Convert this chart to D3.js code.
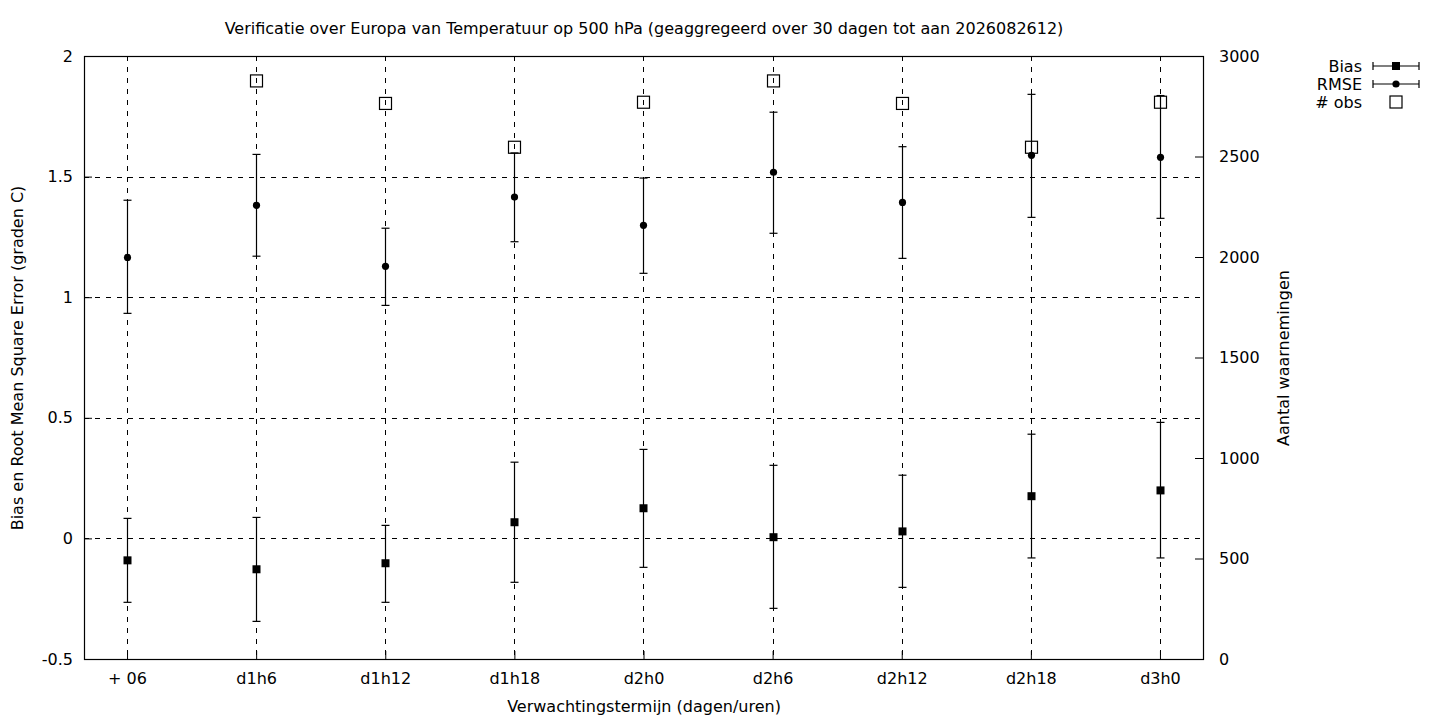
<!DOCTYPE html>
<html>
<head>
<meta charset="utf-8">
<script src="https://cdn.jsdelivr.net/npm/d3@7"></script>
<style>
  body { margin: 0; background: #fff; }
  text { font-family: "DejaVu Sans", sans-serif; font-size: 16px; fill: #000; }
</style>
</head>
<body>
<div id="chart"></div>
<script>
// afmetingen
const width = 1440;
const height = 720;
const margin = { left: 84, right: 237, top: 56, bottom: 61 };

// data
const categories = ["+ 06", "d1h6", "d1h12", "d1h18", "d2h0", "d2h6", "d2h12", "d2h18", "d3h0"];
const rmse   = [1.165, 1.381, 1.128, 1.415, 1.298, 1.518, 1.393, 1.588, 1.580];
const rmseLo = [0.933, 1.170, 0.966, 1.230, 1.099, 1.265, 1.161, 1.331, 1.327];
const rmseHi = [1.402, 1.592, 1.286, 1.598, 1.494, 1.767, 1.624, 1.841, 1.836];
const bias   = [-0.091, -0.128, -0.103, 0.067, 0.125, 0.005, 0.029, 0.175, 0.199];
const biasLo = [-0.265, -0.344, -0.265, -0.182, -0.120, -0.290, -0.203, -0.081, -0.081];
const biasHi = [0.083, 0.087, 0.054, 0.316, 0.369, 0.303, 0.262, 0.432, 0.481];
const obs    = [null, 2876, 2764, 2546, 2770, 2876, 2764, 2546, 2770];
const yTicks = [-0.5, 0, 0.5, 1, 1.5, 2];
const y2Ticks = [0, 500, 1000, 1500, 2000, 2500, 3000];

const svg = d3.select("#chart").append("svg")
    .attr("width", width)
    .attr("height", height);

const x = d3.scaleLinear()
    .domain([-1 / 3, categories.length - 1 + 1 / 3])
    .range([margin.left, width - margin.right]);
const y = d3.scaleLinear()
    .domain([-0.5, 2])
    .range([height - margin.bottom, margin.top]);
const y2 = d3.scaleLinear()
    .domain([0, 3000])
    .range([height - margin.bottom, margin.top]);

const x0 = margin.left, x1 = width - margin.right;
const yTop = margin.top, yBot = height - margin.bottom;
const px = i => Math.round(x(i)) + 0.5;

// grid
const grid = svg.append("g")
    .attr("stroke", "#000")
    .attr("stroke-width", 1)
    .attr("stroke-dasharray", "5,6")
    .attr("shape-rendering", "crispEdges");
grid.selectAll(".gy")
    .data(yTicks.filter(d => d > -0.5 && d < 2))
    .enter().append("line")
    .attr("x1", x0).attr("x2", x1)
    .attr("y1", d => Math.round(y(d)) + 0.5)
    .attr("y2", d => Math.round(y(d)) + 0.5);
grid.selectAll(".gx")
    .data(categories)
    .enter().append("line")
    .attr("x1", (d, i) => px(i))
    .attr("x2", (d, i) => px(i))
    .attr("y1", yTop).attr("y2", yBot);

// assen
const yAxis = d3.axisLeft(y).tickValues(yTicks).tickSize(-8).tickPadding(11)
    .tickFormat(d => String(d));
svg.append("g")
    .attr("transform", `translate(${x0},0)`)
    .call(yAxis)
    .call(g => g.select(".domain").remove());

const y2Axis = d3.axisRight(y2).tickValues(y2Ticks).tickSize(-8).tickPadding(16)
    .tickFormat(d3.format("d"));
svg.append("g")
    .attr("transform", `translate(${x1},0)`)
    .call(y2Axis)
    .call(g => g.select(".domain").remove());

const xAxis = d3.axisBottom(x).tickValues(d3.range(categories.length))
    .tickFormat(i => categories[i]).tickSize(-8).tickPadding(14);
svg.append("g")
    .attr("transform", `translate(0,${yBot})`)
    .call(xAxis)
    .call(g => g.select(".domain").remove());

svg.selectAll(".tick text").attr("font-size", 16).attr("font-family", "DejaVu Sans");
svg.selectAll(".tick line").attr("stroke", "#000");

// rand
svg.append("rect")
    .attr("x", x0 + 0.5).attr("y", yTop + 0.5)
    .attr("width", x1 - x0).attr("height", yBot - yTop)
    .attr("fill", "none").attr("stroke", "#000").attr("stroke-width", 1.2);

// foutbalken
function errorBars(vals, lo, hi) {
    const g = svg.append("g").attr("stroke", "#000").attr("stroke-width", 1.2);
    vals.forEach((v, i) => {
        const cx = px(i);
        g.append("line").attr("x1", cx).attr("x2", cx).attr("y1", y(lo[i])).attr("y2", y(hi[i]));
        g.append("line").attr("x1", cx - 4).attr("x2", cx + 4).attr("y1", y(lo[i])).attr("y2", y(lo[i]));
        g.append("line").attr("x1", cx - 4).attr("x2", cx + 4).attr("y1", y(hi[i])).attr("y2", y(hi[i]));
    });
}
errorBars(bias, biasLo, biasHi);
errorBars(rmse, rmseLo, rmseHi);

svg.append("g").selectAll("rect")
    .data(bias)
    .enter().append("rect")
    .attr("x", (d, i) => px(i) - 4)
    .attr("y", d => y(d) - 4)
    .attr("width", 8).attr("height", 8)
    .attr("fill", "#000");

svg.append("g").selectAll("circle")
    .data(rmse)
    .enter().append("circle")
    .attr("cx", (d, i) => px(i))
    .attr("cy", d => y(d))
    .attr("r", 3.6)
    .attr("fill", "#000");

svg.append("g").selectAll("rect")
    .data(obs.map((v, i) => ({ v, i })).filter(d => d.v != null))
    .enter().append("rect")
    .attr("x", d => px(d.i) - 6)
    .attr("y", d => y2(d.v) - 6)
    .attr("width", 12).attr("height", 12)
    .attr("fill", "none")
    .attr("stroke", "#000")
    .attr("stroke-width", 1.2);

// titels
svg.append("text")
    .attr("x", 644).attr("y", 34)
    .attr("text-anchor", "middle")
    .text("Verificatie over Europa van Temperatuur op 500 hPa (geaggregeerd over 30 dagen tot aan 2026082612)");
svg.append("text")
    .attr("x", 644).attr("y", 712)
    .attr("text-anchor", "middle")
    .text("Verwachtingstermijn (dagen/uren)");
svg.append("text")
    .attr("transform", "translate(23,358) rotate(-90)")
    .attr("text-anchor", "middle")
    .text("Bias en Root Mean Square Error (graden C)");
svg.append("text")
    .attr("transform", "translate(1289,358) rotate(-90)")
    .attr("text-anchor", "middle")
    .text("Aantal waarnemingen");

// legenda
const legend = [
    { name: "Bias", type: "square" },
    { name: "RMSE", type: "circle" },
    { name: "# obs", type: "box" }
];
const lg = svg.append("g");
legend.forEach((d, i) => {
    const ly = 66 + i * 18;
    lg.append("text").attr("x", 1362).attr("y", ly + 6).attr("text-anchor", "end").text(d.name);
    const cx = 1396;
    if (d.type === "box") {
        lg.append("rect").attr("x", cx - 6).attr("y", ly - 6).attr("width", 12).attr("height", 12)
            .attr("fill", "none").attr("stroke", "#000").attr("stroke-width", 1.2);
    } else {
        lg.append("line").attr("x1", 1373).attr("x2", 1419).attr("y1", ly).attr("y2", ly)
            .attr("stroke", "#000").attr("stroke-width", 1.2);
        [1373, 1419].forEach(xx => lg.append("line").attr("x1", xx).attr("x2", xx)
            .attr("y1", ly - 4).attr("y2", ly + 4).attr("stroke", "#000").attr("stroke-width", 1.2));
        if (d.type === "square") {
            lg.append("rect").attr("x", cx - 4).attr("y", ly - 4).attr("width", 8).attr("height", 8).attr("fill", "#000");
        } else {
            lg.append("circle").attr("cx", cx).attr("cy", ly).attr("r", 3.6).attr("fill", "#000");
        }
    }
});
</script>
</body>
</html>
